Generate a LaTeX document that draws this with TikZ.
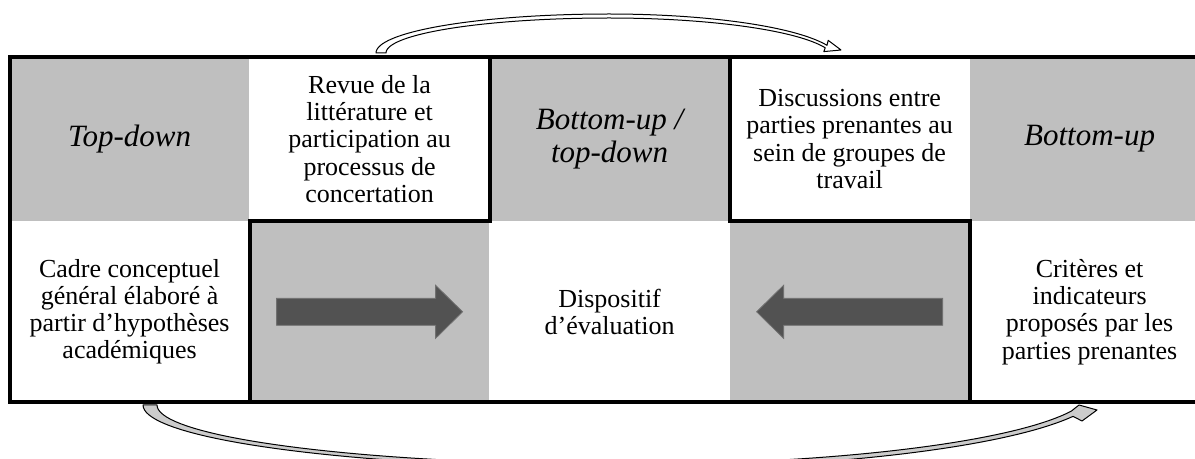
\documentclass[tikz,border=0pt]{standalone}
\usepackage{fontspec}
\setmainfont{Liberation Serif}
\usepackage[HTML]{xcolor}
\usepackage{tikz}
\usetikzlibrary{positioning}
\definecolor{cellgrey}{HTML}{BFBFBF}
\definecolor{blocgrey}{HTML}{525252}
\definecolor{blocedge}{HTML}{707070}
\definecolor{rubangrey}{HTML}{CCCCCC}
\newcommand{\textecell}{\fontsize{13pt}{13.65pt}\selectfont}
\newcommand{\titrecell}{\fontsize{15.5pt}{16.3pt}\selectfont\itshape}
\tikzset{
  cell/.style={minimum width=119.6pt, inner sep=0pt, align=center, font=\textecell},
  haut/.style={cell, minimum height=82pt},
  bas/.style={cell, minimum height=90pt},
  grise/.style={fill=cellgrey},
  titre/.style={font=\titrecell},
  cadre/.style={line width=2pt, line join=miter},
  bloc/.style={fill=blocgrey, draw=blocedge, line width=0.4pt},
  ruban/.style={draw=black, line width=0.5pt, line join=round}
}

\begin{document}
\begin{tikzpicture}[x=0.5pt, y=-0.5pt]
\useasboundingbox (0,0) rectangle (1195,459);
\clip (0,0) rectangle (1195,459);
% ligne du haut
\node[haut, grise, titre] (topdown) at (129.6,139) {Top-down};
\node[haut, right=0pt of topdown] (revue) {Revue de la\\littérature et\\participation au\\processus de\\concertation};
\node[haut, grise, titre, right=0pt of revue] (mixte) {Bottom-up /\\top-down};
\node[haut, right=0pt of mixte] (discussions) {Discussions entre\\parties prenantes au\\sein de groupes de\\travail};
\node[haut, grise, titre, right=0pt of discussions] (bottomup) {Bottom-up};
% ligne du bas
\node[bas, below=0pt of topdown] (cadre) {Cadre conceptuel\\général élaboré à\\partir d’hypothèses\\académiques};
\node[bas, grise, right=0pt of cadre] (flecheA) {};
\node[bas, right=0pt of flecheA] (dispositif) {Dispositif\\d’évaluation};
\node[bas, grise, right=0pt of dispositif] (flecheB) {};
\node[bas, right=0pt of flecheB] (criteres) {Critères et\\indicateurs\\proposés par les\\parties prenantes};
% traits du tableau
\draw[cadre] (topdown.north west) rectangle (criteres.south east);
\draw[cadre] (flecheA.south west) -- (flecheA.north west) -- (revue.south east) -- (revue.north east);
\draw[cadre] (discussions.north west) -- (discussions.south west) -- (flecheB.north east) -- (flecheB.south east);
% fleches pleines
\begin{scope}[shift={(flecheA.center)}]
\draw[bloc] (-93,-13.5) -- (66,-13.5) -- (66,-26.5) -- (93,0) -- (66,26.5) -- (66,13.5) -- (-93,13.5) -- cycle;
\end{scope}
\begin{scope}[shift={(flecheB.center)}, xscale=-1]
\draw[bloc] (-93,-13.5) -- (66,-13.5) -- (66,-26.5) -- (93,0) -- (66,26.5) -- (66,13.5) -- (-93,13.5) -- cycle;
\end{scope}
% fleche courbe du haut
\draw[ruban, fill=white] plot[domain=180:90, samples=40] ({609+233*cos(\x)},{53-39*sin(\x)})
  -- plot[domain=90:18.6, samples=40] ({609+230*cos(\x)},{60-46*sin(\x)})
  -- (828.2,40.4) -- (841,50) -- (823.8,51.6)
  -- plot[domain=16.9:90, samples=40] ({609+226*cos(\x)},{60-42*sin(\x)})
  -- plot[domain=90:180, samples=40] ({609+223*cos(\x)},{53-35*sin(\x)})
  -- cycle;
% fleche courbe du bas
\draw[ruban, fill=rubangrey] plot[domain=180:90, samples=40] ({622+479*cos(\x)},{405+63*sin(\x)})
  -- plot[domain=90:20, samples=40] ({622+480*cos(\x)},{389+80*sin(\x)})
  -- (1082,421) -- (1097,410) -- (1079,405)
  -- plot[domain=17.1:90, samples=40] ({622+470*cos(\x)},{389+75.5*sin(\x)})
  -- plot[domain=90:180, samples=40] ({622+465*cos(\x)},{405+59.5*sin(\x)})
  -- cycle;
\end{tikzpicture}
\end{document}
